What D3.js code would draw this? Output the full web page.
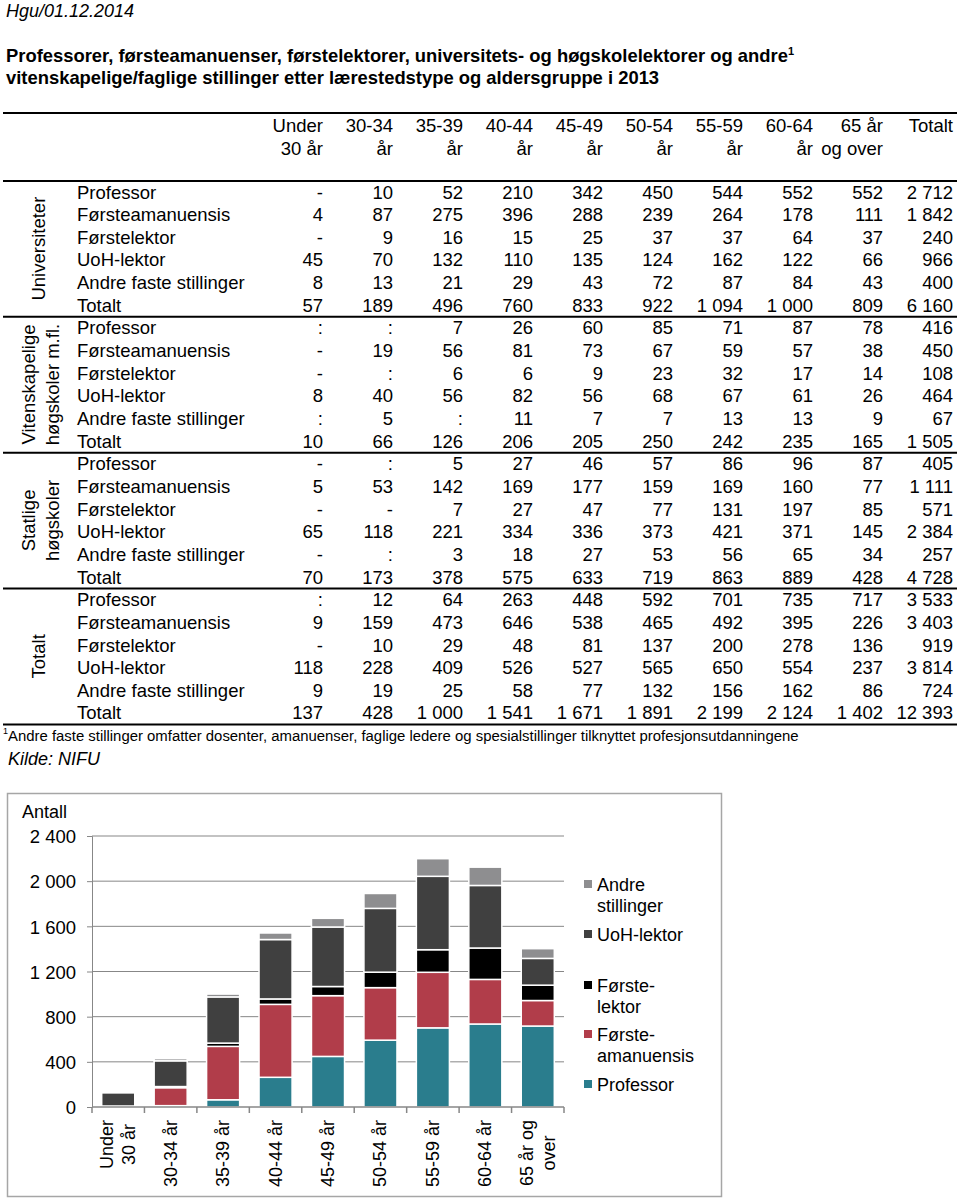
<!DOCTYPE html>
<html><head><meta charset="utf-8">
<script src="https://cdn.jsdelivr.net/npm/d3@7/dist/d3.min.js"></script>
<style>
html,body{margin:0;padding:0;background:#fff;}
svg text{font-family:"Liberation Sans",Arial,Helvetica,sans-serif;fill:#000;}
</style></head>
<body>
<script>
// ---------- DATA ----------
const headerLines = [["Under","30 år"],["30-34","år"],["35-39","år"],["40-44","år"],["45-49","år"],["50-54","år"],["55-59","år"],["60-64","år"],["65 år","og over"],["Totalt",""]];
const roles = ["Professor","Førsteamanuensis","Førstelektor","UoH-lektor","Andre faste stillinger","Totalt"];
const groupLabels = [["Universiteter"],["Vitenskapelige","høgskoler m.fl."],["Statlige","høgskoler"],["Totalt"]];

const universiteter = [
  ["-","10","52","210","342","450","544","552","552","2 712"],
  ["4","87","275","396","288","239","264","178","111","1 842"],
  ["-","9","16","15","25","37","37","64","37","240"],
  ["45","70","132","110","135","124","162","122","66","966"],
  ["8","13","21","29","43","72","87","84","43","400"],
  ["57","189","496","760","833","922","1 094","1 000","809","6 160"]
];
const vitenskapelige = [
  [":",":","7","26","60","85","71","87","78","416"],
  ["-","19","56","81","73","67","59","57","38","450"],
  ["-",":","6","6","9","23","32","17","14","108"],
  ["8","40","56","82","56","68","67","61","26","464"],
  [":","5",":","11","7","7","13","13","9","67"],
  ["10","66","126","206","205","250","242","235","165","1 505"]
];
const statlige = [
  ["-",":","5","27","46","57","86","96","87","405"],
  ["5","53","142","169","177","159","169","160","77","1 111"],
  ["-","-","7","27","47","77","131","197","85","571"],
  ["65","118","221","334","336","373","421","371","145","2 384"],
  ["-",":","3","18","27","53","56","65","34","257"],
  ["70","173","378","575","633","719","863","889","428","4 728"]
];
const totalt = [
  [":","12","64","263","448","592","701","735","717","3 533"],
  ["9","159","473","646","538","465","492","395","226","3 403"],
  ["-","10","29","48","81","137","200","278","136","919"],
  ["118","228","409","526","527","565","650","554","237","3 814"],
  ["9","19","25","58","77","132","156","162","86","724"],
  ["137","428","1 000","1 541","1 671","1 891","2 199","2 124","1 402","12 393"]
];

// chart
const ageGroups = ["Under|30 år","30-34 år","35-39 år","40-44 år","45-49 år","50-54 år","55-59 år","60-64 år","65 år og|over"];
const seriesNames = ["Professor","Førsteamanuensis","Førstelektor","UoH-lektor","Andre stillinger"];
const legendLabels = [["Andre","stillinger"],["UoH-lektor"],["Første-","lektor"],["Første-","amanuensis"],["Professor"]];
const professorVals = [0,12,64,263,448,592,701,735,717];
const forsteamanVals = [9,159,473,646,538,465,492,395,226];
const forstelektorVals = [0,10,29,48,81,137,200,278,136];
const uohVals = [118,228,409,526,527,565,650,554,237];
const andreVals = [9,19,25,58,77,132,156,162,86];
const yTicks = [0,400,800,1200,1600,2000,2400];
const colors = ["#2a7d8d","#b13d4a","#000000","#404040","#8e8e90"];

// ---------- DRAW ----------
const svg = d3.select("body").append("svg").attr("width",960).attr("height",1199);
const fmt = v => { const s = String(v); return s.length>3 ? s.slice(0,s.length-3)+" "+s.slice(-3) : s; };

svg.append("text").attr("x",6).attr("y",17).attr("font-size",18).attr("font-style","italic").text("Hgu/01.12.2014");
const t1 = svg.append("text").attr("x",6).attr("y",62).attr("font-size",18.4).attr("font-weight","bold")
  .text("Professorer, førsteamanuenser, førstelektorer, universitets- og høgskolelektorer og andre");
t1.append("tspan").attr("font-size",11).attr("dy",-7).text("1");
svg.append("text").attr("x",6).attr("y",84).attr("font-size",18.4).attr("font-weight","bold")
  .text("vitenskapelige/faglige stillinger etter lærestedstype og aldersgruppe i 2013");

// table
const tfs = 18.5;
const colRight = d3.range(10).map(i => 323 + 70*i);
const rowY = i => 192 + i*22.65;
const rule = y => svg.append("line").attr("x1",3).attr("x2",957).attr("y1",y).attr("y2",y).attr("stroke","#000").attr("stroke-width",2);
rule(113); rule(181);
headerLines.forEach((h,i) => {
  svg.append("text").attr("x",colRight[i]).attr("y",131.5).attr("text-anchor","end").attr("font-size",tfs).text(h[0]);
  if (h[1]) svg.append("text").attr("x",colRight[i]).attr("y",154.5).attr("text-anchor","end").attr("font-size",tfs).text(h[1]);
});
const groups = [universiteter, vitenskapelige, statlige, totalt];
groups.forEach((g,gi) => {
  g.forEach((row,ri) => {
    const idx = gi*6 + ri;
    const y = rowY(idx) + 6.5;
    svg.append("text").attr("x",77).attr("y",y).attr("font-size",tfs).text(roles[ri]);
    row.forEach((v,ci) => {
      svg.append("text").attr("x",colRight[ci]).attr("y",y).attr("text-anchor","end").attr("font-size",tfs).text(v);
    });
  });
  const cy = (rowY(gi*6) + rowY(gi*6+5))/2;
  const lab = groupLabels[gi];
  lab.forEach((l,li) => {
    const cx = lab.length===1 ? 38 : (li===0 ? 28 : 52);
    svg.append("text").attr("transform",`translate(${cx},${cy}) rotate(-90)`).attr("text-anchor","middle")
      .attr("dominant-baseline","central").attr("font-size",tfs).text(l);
  });
  rule(rowY(gi*6+5) + 11.5);
});
const fn = svg.append("text").attr("x",3).attr("y",741).attr("font-size",14.9);
fn.append("tspan").attr("font-size",9).attr("dy",-7).text("1");
fn.append("tspan").attr("dy",7).text("Andre faste stillinger omfatter dosenter, amanuenser, faglige ledere og spesialstillinger tilknyttet profesjonsutdanningene");
svg.append("text").attr("x",8).attr("y",765).attr("font-size",18).attr("font-style","italic").text("Kilde: NIFU");

// chart frame
svg.append("rect").attr("x",7.5).attr("y",793.5).attr("width",714).attr("height",403).attr("fill","none").attr("stroke","#a6a6a6").attr("stroke-width",1.5);

const x = d3.scaleBand().domain(ageGroups).range([92,564]).paddingInner(0.37).paddingOuter(0.185);
const y = d3.scaleLinear().domain([0,2400]).range([1107,836]);
const axisColor = "#878787";

// gridlines
svg.append("g").selectAll("line").data(yTicks.filter(d=>d>0)).join("line")
  .attr("x1",92).attr("x2",564).attr("y1",d=>y(d)).attr("y2",d=>y(d)).attr("stroke",axisColor).attr("stroke-width",1);

// bars
const tableRows = ageGroups.map((a,i) => ({age:a, "Professor":professorVals[i], "Førsteamanuensis":forsteamanVals[i], "Førstelektor":forstelektorVals[i], "UoH-lektor":uohVals[i], "Andre stillinger":andreVals[i]}));
const stack = d3.stack().keys(seriesNames)(tableRows);
svg.append("g").selectAll("g").data(stack).join("g").attr("fill",(d,i)=>colors[i])
  .selectAll("rect").data(d=>d).join("rect")
  .attr("x",d=>x(d.data.age)).attr("width",x.bandwidth())
  .attr("y",d=>y(d[1])).attr("height",d=>Math.max(0,y(d[0])-y(d[1])))
  .attr("stroke","#fff").attr("stroke-width",1.5);

// y axis
const yAxis = svg.append("g").attr("transform","translate(92,0)")
  .call(d3.axisLeft(y).tickValues(yTicks).tickSize(5).tickPadding(11).tickFormat(fmt));
yAxis.select(".domain").attr("stroke",axisColor);
yAxis.selectAll(".tick line").attr("stroke",axisColor);
yAxis.selectAll("text").attr("font-size",18.5).attr("font-family",null).attr("fill","#000").attr("dy","0.36em");
svg.append("text").attr("x",22).attr("y",818).attr("font-size",18).text("Antall");

// x axis
svg.append("line").attr("x1",92).attr("x2",564).attr("y1",1107).attr("y2",1107).attr("stroke",axisColor).attr("stroke-width",1.5);
const bounds = d3.range(10).map(i => 92 + x.step()*i);
svg.append("g").selectAll("line").data(bounds).join("line")
  .attr("x1",d=>d).attr("x2",d=>d).attr("y1",1107).attr("y2",1113).attr("stroke",axisColor).attr("stroke-width",1.5);
ageGroups.forEach(a => {
  const lines = a.split("|");
  const cx = x(a) + x.bandwidth()/2;
  const g = svg.append("g");
  const texts = lines.map((l,li) => g.append("text").attr("font-size",18).attr("text-anchor","middle").attr("dominant-baseline","central").text(l));
  const maxW = d3.max(texts, t => t.node().getComputedTextLength());
  const cy = 1120 + maxW/2;
  texts.forEach((t,li) => {
    const off = (li - (lines.length-1)/2) * 22;
    t.attr("transform",`translate(${cx+off},${cy}) rotate(-90)`);
  });
});

// legend
const legY = [884, 934, 985, 1034, 1084];
legendLabels.forEach((lab,i) => {
  const si = seriesNames.length-1-i;
  svg.append("rect").attr("x",584).attr("y",legY[i]-4).attr("width",8).attr("height",8).attr("fill",colors[si]);
  lab.forEach((l,li) => {
    svg.append("text").attr("x",597).attr("y",legY[i]+6.5+li*21.5).attr("font-size",18).text(l);
  });
});
</script>
</body></html>
